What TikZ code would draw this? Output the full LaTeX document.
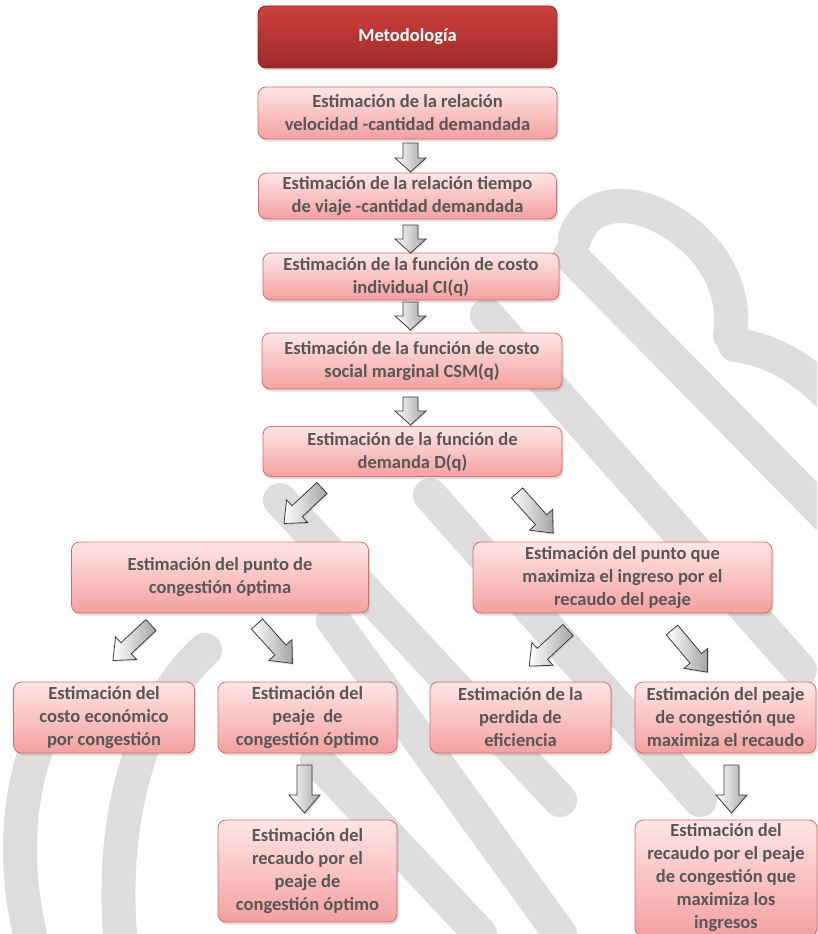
\documentclass[tikz,border=0pt]{standalone}
\usepackage{fontspec}
\setmainfont{Carlito}
\usetikzlibrary{shadows,calc}

\definecolor{boxtop}{HTML}{FFE6E6}
\definecolor{boxbot}{HTML}{F4A0A0}
\definecolor{boxline}{HTML}{D96A6A}
\definecolor{headtop}{HTML}{CC403E}
\definecolor{headbot}{HTML}{9E2A29}
\definecolor{headline}{HTML}{962424}
\definecolor{txt}{HTML}{575757}
\definecolor{arrline}{HTML}{3C3C3C}
\definecolor{arrbot}{HTML}{A4A4A4}
\definecolor{mark}{HTML}{DDDDDD}

\tikzset{
  stepbox/.style={draw=boxline, line width=0.8pt, rounded corners=8pt,
    top color=boxtop, bottom color=boxbot, inner sep=0pt, align=center,
    text=txt, font=\bfseries\fontsize{18.5}{23}\selectfont,
    drop shadow={shadow xshift=1.5pt, shadow yshift=-2.5pt, opacity=0.25}},
  headbox/.style={stepbox, draw=headline, top color=headtop, bottom color=headbot,
    text=white, font=\bfseries\fontsize{18.5}{23}\selectfont},
  stroke/.style={draw=mark, line width=34pt, line cap=round, line join=round},
  pics/blockarrow/.style args={#1/#2}{code={
    % tail at the origin, pointing along +x; #1 = length, #2 = head length
    \path[draw=arrline, line width=0.8pt, left color=white, right color=arrbot,
      drop shadow={shadow xshift=1.2pt, shadow yshift=-1.5pt, opacity=0.2}]
      (0,-7.5) -- (#1-#2,-7.5) -- (#1-#2,-15.5) -- (#1,0) -- (#1-#2,15.5)
      -- (#1-#2,7.5) -- (0,7.5) -- cycle;
  }}
}

\begin{document}
\begin{tikzpicture}[x=1pt, y=-1pt]
\useasboundingbox (0,0) rectangle (817,934);
\fill[white] (0,0) rectangle (817,934);

% faint watermark strokes in the background
\begin{scope}
\clip (0,0) rectangle (817,934);
\draw[stroke] (575,238) .. controls (585,200) and (640,190) .. (695,240)
  .. controls (725,268) and (735,305) .. (730,335);
\draw[stroke] (735,345) .. controls (780,350) and (820,380) .. (850,420);
\draw[stroke] (570,255) -- (850,540);
\draw[stroke] (487,315) -- (800,670);
\draw[stroke] (430,495) -- (700,800);
\draw[stroke] (280,500) -- (560,800);
\draw[stroke] (333,620) -- (560,934);
\draw[stroke] (317,760) -- (480,934);
\draw[stroke] (205,650) .. controls (150,700) and (110,800) .. (120,934);
\draw[stroke] (60,700) .. controls (20,760) and (10,850) .. (30,934);
\end{scope}

% main column
\node[headbox, minimum width=299, minimum height=62] (title) at (407.5,37) {Metodología};
\node[stepbox, minimum width=299, minimum height=52] (s1) at (407.5,113)
  {Estimación de la relación\\velocidad -cantidad demandada};
\node[stepbox, minimum width=298, minimum height=46] (s2) at (407.5,196)
  {Estimación de la relación tiempo\\de viaje -cantidad demandada};
\node[stepbox, minimum width=296, minimum height=47] (s3) at (411,276.5)
  {Estimación de la función de costo\\individual CI(q)};
\node[stepbox, minimum width=300, minimum height=56] (s4) at (412,361)
  {Estimación de la función de costo\\social marginal CSM(q)};
\node[stepbox, minimum width=299, minimum height=50] (s5) at (412.5,451.5)
  {Estimación de la función de\\demanda D(q)};

% two branches
\node[stepbox, minimum width=297, minimum height=71] (pl) at (220,577.5)
  {Estimación del punto de\\congestión óptima};
\node[stepbox, minimum width=299, minimum height=71] (pr) at (622.5,577.5)
  {Estimación del punto que\\maximiza el ingreso por el\\recaudo del peaje};

\node[stepbox, minimum width=181, minimum height=71] (c1) at (104,717.5)
  {Estimación del\\costo económico\\por congestión};
\node[stepbox, minimum width=179, minimum height=71] (c2) at (307.5,717.5)
  {Estimación del\\peaje\ \ de\\congestión óptimo};
\node[stepbox, minimum width=181, minimum height=71] (c3) at (520.5,717.5)
  {Estimación de la\\perdida de\\eficiencia};
\node[stepbox, minimum width=181, minimum height=71] (c4) at (725.5,717.5)
  {Estimación del peaje\\de congestión que\\maximiza el recaudo};

\node[stepbox, minimum width=179, minimum height=102] (d1) at (307.5,871)
  {Estimación del\\recaudo por el\\peaje de\\congestión óptimo};
\node[stepbox, minimum width=182, minimum height=116] (d2) at (726,878)
  {Estimación del\\recaudo por el peaje\\de congestión que\\maximiza los\\ingresos};

% block arrows between the steps
\pic (a1) at (410.5,143) [rotate=-90] {blockarrow=29/14};
\pic (a2) at (410.5,225) [rotate=-90] {blockarrow=28/14};
\pic (a3) at (410.5,302) [rotate=-90] {blockarrow=28/14};
\pic (a4) at (410.5,397) [rotate=-90] {blockarrow=28/14};
\pic (a5) at (322,488) [rotate=-137] {blockarrow=52/18};
\pic (a6) at (517,493) [rotate=-48] {blockarrow=54/18};
\pic (a7) at (151,625) [rotate=-137] {blockarrow=52/18};
\pic (a8) at (257,624) [rotate=-48] {blockarrow=53/18};
\pic (a9) at (568,630) [rotate=-137] {blockarrow=53/18};
\pic (a10) at (672,630) [rotate=-50] {blockarrow=55/18};
\pic (a11) at (304.5,765) [rotate=-90] {blockarrow=48/18};
\pic (a12) at (731.5,765) [rotate=-90] {blockarrow=48/18};
\end{tikzpicture}
\end{document}
